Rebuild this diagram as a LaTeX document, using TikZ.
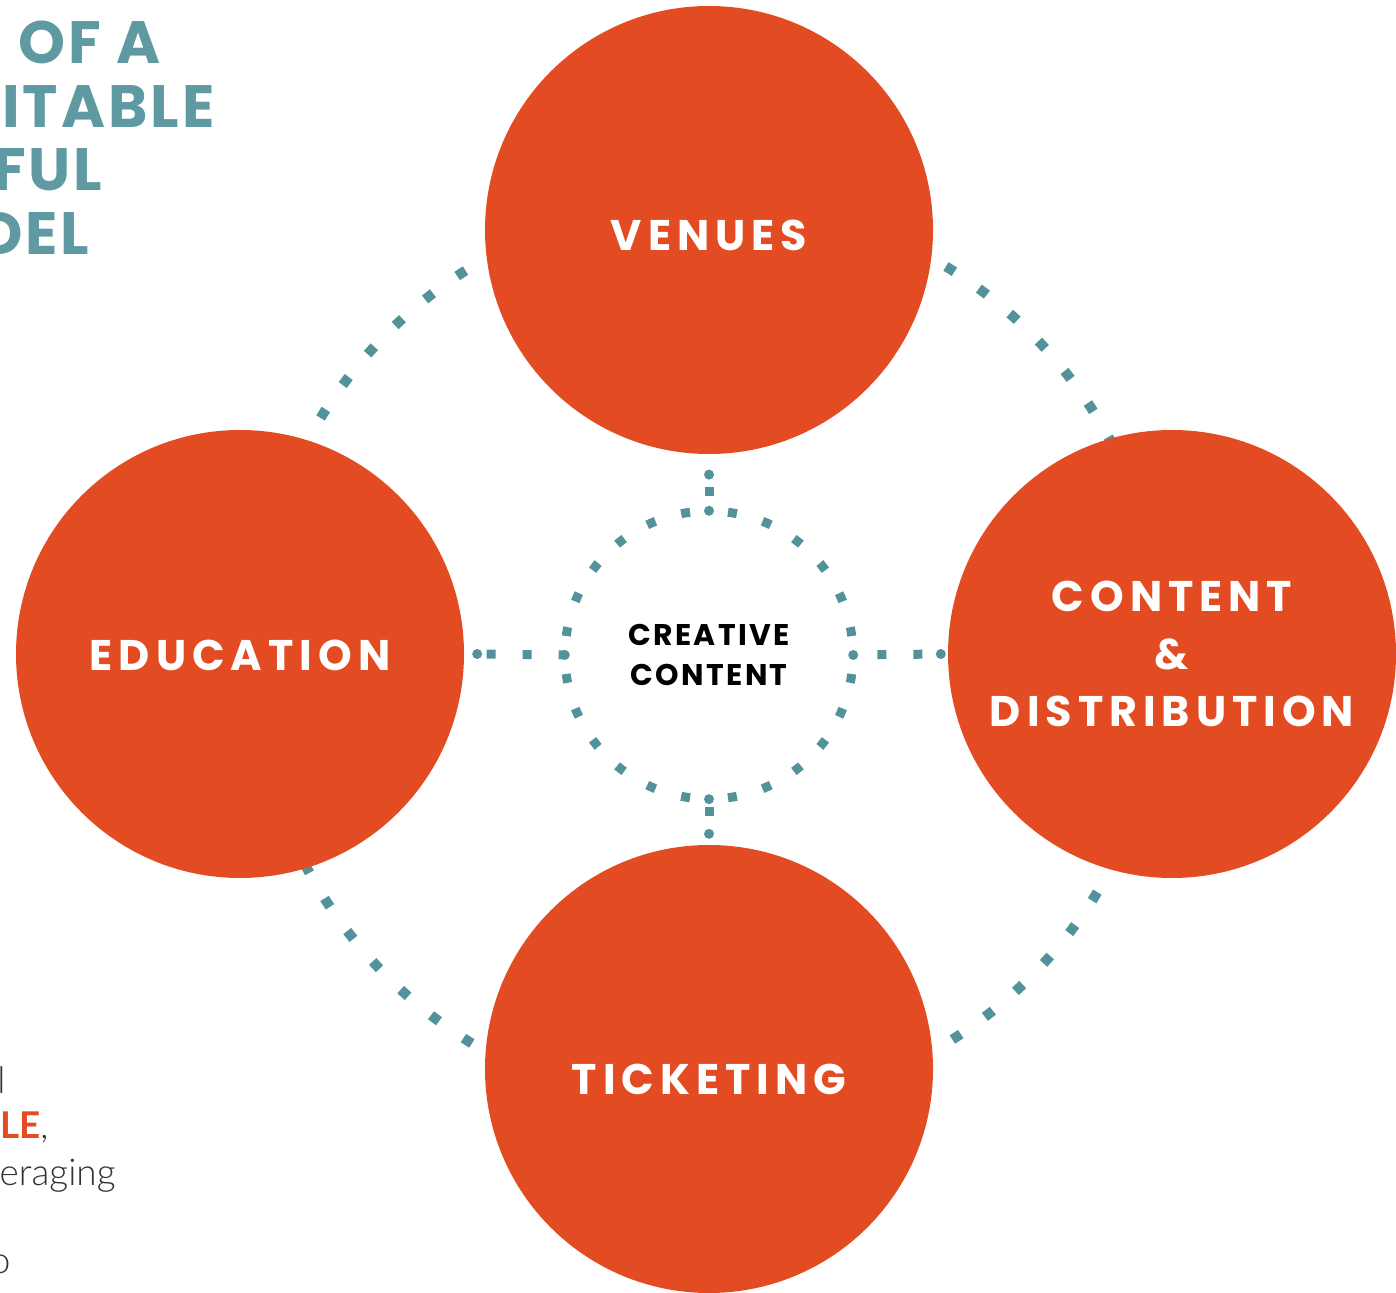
\documentclass[tikz,border=0pt]{standalone}
\usepackage{fontspec}
\usepackage{tikz}
\newfontfamily\headfont{Poppins Bold}
\newfontfamily\bodyfont{Lato Light}[BoldFont={Lato Bold}]
\definecolor{brandorange}{HTML}{E34B22}
\definecolor{brandteal}{HTML}{5F9AA3}
\definecolor{dotteal}{HTML}{52929B}
\definecolor{bodygray}{HTML}{333333}

\begin{document}
\begin{tikzpicture}[x=1bp,y=1bp,
        pillar/.style={circle, fill=brandorange, minimum size=448bp, inner sep=0pt,
            text=white, align=center,
            font=\headfont\fontsize{43}{58}\selectfont\addfontfeatures{LetterSpace=14}},
        core/.style={circle, minimum size=288bp, inner sep=0pt, align=center,
            font=\headfont\fontsize{30}{40}\selectfont\addfontfeatures{LetterSpace=8}},
        orbit/.style={draw=dotteal, line width=10bp, dash pattern=on 10bp off 29.706bp, dash phase=20.886bp},
        ring/.style={draw=dotteal, line width=9bp, dash pattern=on 9bp off 26.84bp, dash phase=16.84bp},
        link/.style={draw=dotteal, line width=9bp, dash pattern=on 9bp off 27bp},
        joint/.style={circle, fill=dotteal, minimum size=10bp, inner sep=0pt},
        title/.style={anchor=base east, text=brandteal,
            font=\headfont\fontsize{60}{64}\selectfont\addfontfeatures{LetterSpace=5}},
        body/.style={anchor=base east, text=bodygray, font=\bodyfont\fontsize{37}{46}\selectfont}
    ]
        \useasboundingbox (0,0) rectangle (1396,1292);
        \clip (0,0) rectangle (1396,1292);

        \coordinate (hub) at (709,637);
        \draw[orbit] (hub) circle[radius=455];

        \node[pillar, text height=42bp, text depth=0pt] (venues) at (709,1062) {VENUES};
        \node[pillar, text height=34bp, text depth=0pt] (education) at (240,638) {EDUCATION};
        \node[pillar] (content) at (1172,638) {CONTENT\\\&\\DISTRIBUTION};
        \node[pillar, text height=50bp, text depth=0pt] (ticketing) at (709,223) {TICKETING};

        \node[core] (core) at (hub) {CREATIVE\\CONTENT};
        \foreach \q in {0,90,180,270}
            \draw[ring] (core.center) ++(\q:144) arc[start angle=\q, end angle=\q+90, radius=144];
        \foreach \a in {north,south,east,west}
            \node[joint] at (core.\a) {};

        % spokes
        \node[joint] (venues-in) at ([yshift=-20.5]venues.south) {};
        \node[joint] (education-in) at ([xshift=13]education.east) {};
        \node[joint] (content-in) at ([xshift=-7]content.west) {};
        \node[joint] (ticketing-in) at ([yshift=11]ticketing.north) {};
        \draw[link, dash phase=24bp] (venues-in.center) -- (core.north);
        \draw[link, dash phase=26.5bp] (education-in.center) -- (core.west);
        \draw[link, dash phase=17.5bp] (content-in.center) -- (core.east);
        \draw[link, dash phase=18.5bp] (ticketing-in.center) -- (core.south);

        \node[title] (title1) at (164,1228) {OF A};
        \node[title] (title2) at (218,1164) {ITABLE};
        \node[title] (title3) at (106,1101) {FUL};
        \node[title] (title4) at (93,1037) {DEL};

        \node[body] (line1) at (9,199) {l};
        \node[body] (line2) at (52,154) {\textcolor{brandorange}{\bfseries LE},};
        \node[body] (line3) at (119,107) {eraging};
        \node[body] (line4) at (14,19) {o};
\end{tikzpicture}
\end{document}
